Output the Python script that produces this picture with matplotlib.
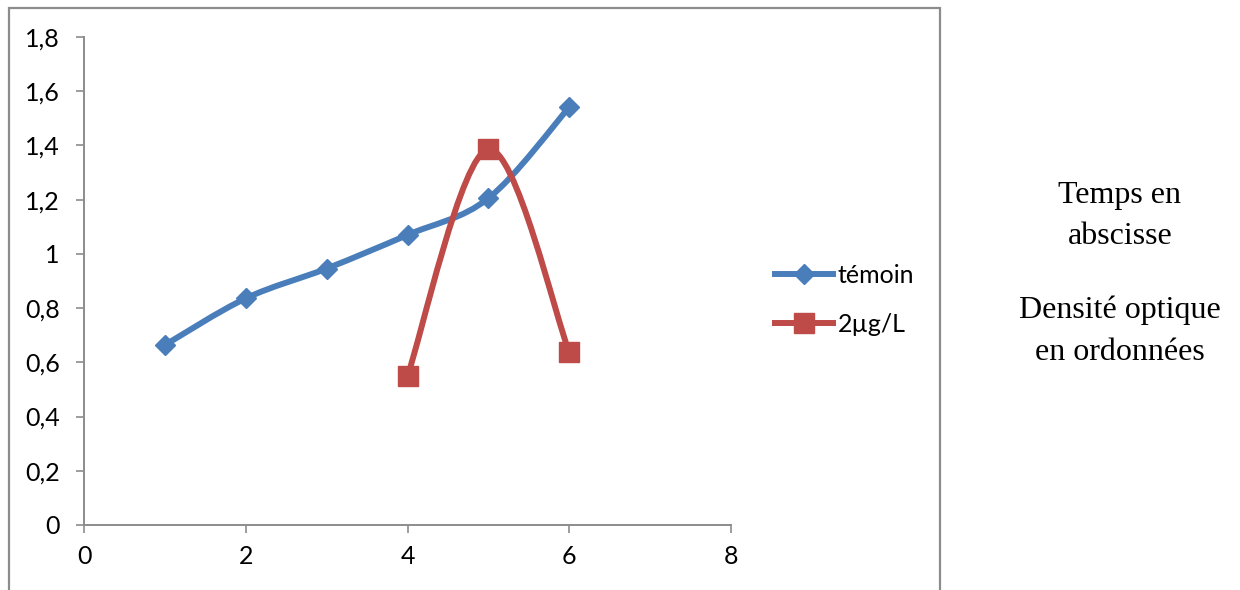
import numpy as np
import matplotlib
matplotlib.use("Agg")
import matplotlib.pyplot as plt
from matplotlib.path import Path
from matplotlib.patches import PathPatch, Rectangle
from matplotlib.lines import Line2D

# data
temoin_x = [1, 2, 3, 4, 5, 6]
temoin_y = [0.664, 0.836, 0.946, 1.070, 1.205, 1.541]
dose_x = [4, 5, 6]
dose_y = [0.550, 1.386, 0.637]
series_names = ["témoin", "2µg/L"]
x_ticks = [0, 2, 4, 6, 8]
y_ticks = [0, 0.2, 0.4, 0.6, 0.8, 1.0, 1.2, 1.4, 1.6, 1.8]
side_lines = ["Temps en", "abscisse", "Densité optique", "en ordonnées"]

BLUE = "#4A7EBB"
RED = "#BE4B48"
GREY = "#8C8C8C"
FS = 18

plt.rcParams['font.family'] = ['Lato', 'DejaVu Sans']


def smooth_path(xs, ys):
    # Excel-style smoothed line: bezier segments with catmull-rom control points
    pts = np.column_stack([xs, ys]).astype(float)
    n = len(pts)
    verts = [pts[0]]
    codes = [Path.MOVETO]
    for i in range(n - 1):
        p0 = pts[i - 1] if i > 0 else pts[i]
        p1 = pts[i]
        p2 = pts[i + 1]
        p3 = pts[i + 2] if i + 2 < n else pts[i + 1]
        c1 = p1 + (p2 - p0) / 6.0
        c2 = p2 - (p3 - p1) / 6.0
        verts += [c1, c2, p2]
        codes += [Path.CURVE4] * 3
    return Path(verts, codes)


fig = plt.figure(figsize=(12.4, 5.9), dpi=100)
ax = fig.add_axes([84 / 1240, 1 - 525 / 590, (731 - 84) / 1240, (525 - 37) / 590])

# outer chart frame
fig.patches.append(Rectangle((9 / 1240, -0.2), (940 - 9) / 1240, 1.2 - 8 / 590,
                             transform=fig.transFigure, fill=False,
                             edgecolor=GREY, lw=1.6, zorder=0))

for xs, ys, col in [(temoin_x, temoin_y, BLUE), (dose_x, dose_y, RED)]:
    ax.add_patch(PathPatch(smooth_path(xs, ys), fill=False, edgecolor=col,
                           lw=4.3, capstyle='round', joinstyle='round', zorder=2))

ax.plot(temoin_x, temoin_y, ls='none', marker='D', ms=10.5, color=BLUE, zorder=3)
ax.plot(dose_x, dose_y, ls='none', marker='s', ms=14, color=RED, zorder=3)

ax.set_xlim(0, 8)
ax.set_ylim(0, 1.8)
ax.set_xticks(x_ticks)
ax.set_yticks(y_ticks)
ax.set_xticklabels([str(v) for v in x_ticks])
ax.set_yticklabels([("%g" % v).replace(".", ",") for v in y_ticks])
for s in ["top", "right"]:
    ax.spines[s].set_visible(False)
for s in ["left", "bottom"]:
    ax.spines[s].set_color(GREY)
    ax.spines[s].set_linewidth(1.4)
ax.tick_params(axis='both', direction='out', length=5.5, width=1.2, color=GREY,
               labelsize=FS, labelcolor='black')
ax.tick_params(axis='x', pad=9)
ax.tick_params(axis='y', pad=12)
ax.patch.set_alpha(0)

handles = [
    Line2D([], [], color=BLUE, lw=4.3, marker='D', ms=10.5),
    Line2D([], [], color=RED, lw=4.3, marker='s', ms=14),
]
fig.legend(handles, series_names, loc='center left',
           bbox_to_anchor=(775 / 1240, 1 - 300 / 590), frameon=False,
           fontsize=FS, handlelength=2.3, handletextpad=0.2,
           labelspacing=1.05, borderpad=0, borderaxespad=0)

side_y = [195, 237, 310, 352]
for txt, yy in zip(side_lines, side_y):
    fig.text(1120 / 1240, 1 - yy / 590, txt, ha='center', va='center',
             family='Liberation Serif', fontsize=23)

fig.savefig("out.png", dpi=100)
